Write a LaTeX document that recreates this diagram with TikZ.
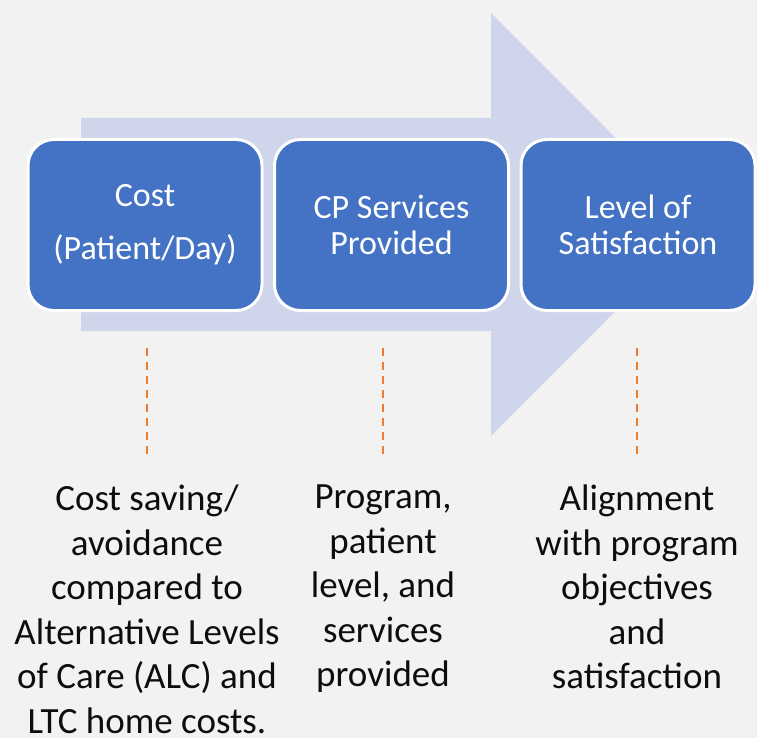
\documentclass[tikz,border=0pt]{standalone}
\usepackage{fontspec}
\setmainfont{Carlito}
\definecolor{bg}{HTML}{F2F2F2}
\definecolor{arrowfill}{HTML}{CFD5EA}
\definecolor{boxblue}{HTML}{4472C4}
\definecolor{dashorange}{HTML}{ED7D31}
\definecolor{txt}{HTML}{0D0D0D}
\tikzset{
  stepbox/.style={rounded corners=26pt, fill=boxblue, draw=white, line width=3pt,
    minimum width=234pt, minimum height=171pt, text=white, align=center,
    font=\fontsize{34}{36}\selectfont, inner sep=0pt},
  desc/.style={align=center, text=txt, font=\fontsize{37}{44.5}\selectfont, inner sep=0pt, anchor=north},
  guide/.style={draw=dashorange, line width=2pt, dash pattern=on 8pt off 6pt}
}
\begin{document}
\begin{tikzpicture}[x=1pt,y=-1pt]
\fill[bg] (0,0) rectangle (757,738);
\useasboundingbox (0,0) rectangle (757,738);
\fill[arrowfill] (81,118) -- (491,118) -- (491,13) -- (702,224.5) -- (491,436) -- (491,331) -- (81,331) -- cycle;
\node[stepbox] (b1) at (145,225) {Cost\\[17pt](Patient/Day)};
\node[stepbox] (b2) at (391.5,225) {CP Services\\Provided};
\node[stepbox] (b3) at (638,225) {Level of\\Satisfaction};
\coordinate (t1) at (147,348); \coordinate (u1) at (147,456);
\coordinate (t2) at (383,348); \coordinate (u2) at (383,456);
\coordinate (t3) at (637,348); \coordinate (u3) at (637,456);
\draw[guide] (t1) -- (u1);
\draw[guide] (t2) -- (u2);
\draw[guide] (t3) -- (u3);
\node[desc] (d1) at (147,485) {Cost saving/\\avoidance\\compared to\\Alternative Levels\\of Care (ALC) and\\LTC home costs.};
\node[desc] (d2) at (383,485) {Program,\\patient\\level, and\\services\\provided};
\node[desc] (d3) at (637,485) {Alignment\\with program\\objectives\\and\\satisfaction};
\end{tikzpicture}
\end{document}
